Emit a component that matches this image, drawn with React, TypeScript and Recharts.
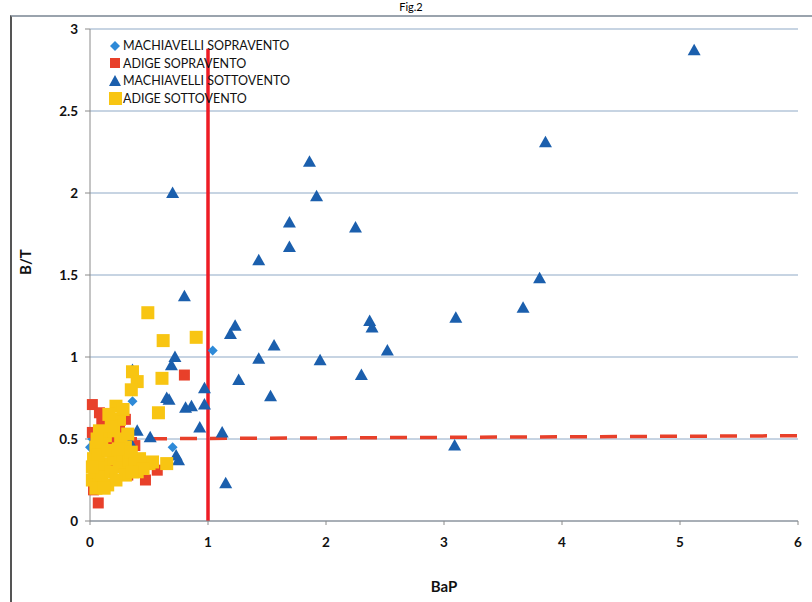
import React from "react";
import {
  ScatterChart,
  Scatter,
  XAxis,
  YAxis,
  CartesianGrid,
  ReferenceLine,
} from "recharts";

const xTicks = [0, 1, 2, 3, 4, 5, 6];
const yTicks = [0, 0.5, 1, 1.5, 2, 2.5, 3];

const machiavelliSopra = [
  { x: 1.04, y: 1.04 },
  { x: 0.36, y: 0.73 },
  { x: 0.7, y: 0.45 },
  { x: 0.0, y: 0.45 },
  { x: 0.02, y: 0.5 },
];

const adigeSopra = [
  { x: 0.8, y: 0.89 },
  { x: 0.02, y: 0.71 },
  { x: 0.47, y: 0.25 },
  { x: 0.07, y: 0.11 },
  { x: 0.03, y: 0.19 },
  { x: 0.32, y: 0.28 },
  { x: 0.57, y: 0.31 },
  { x: 0.02, y: 0.54 },
  { x: 0.05, y: 0.52 },
  { x: 0.1, y: 0.6 },
  { x: 0.25, y: 0.57 },
  { x: 0.12, y: 0.45 },
  { x: 0.3, y: 0.62 },
  { x: 0.08, y: 0.66 },
  { x: 0.2, y: 0.5 },
  { x: 0.38, y: 0.46 },
  { x: 0.15, y: 0.33 },
];

const machiavelliSotto = [
  { x: 5.12, y: 2.87 },
  { x: 3.86, y: 2.31 },
  { x: 1.86, y: 2.19 },
  { x: 1.92, y: 1.98 },
  { x: 0.7, y: 2.0 },
  { x: 1.69, y: 1.82 },
  { x: 1.69, y: 1.67 },
  { x: 2.25, y: 1.79 },
  { x: 1.43, y: 1.59 },
  { x: 3.81, y: 1.48 },
  { x: 0.8, y: 1.37 },
  { x: 3.67, y: 1.3 },
  { x: 3.1, y: 1.24 },
  { x: 2.37, y: 1.22 },
  { x: 2.39, y: 1.18 },
  { x: 1.23, y: 1.19 },
  { x: 1.19, y: 1.14 },
  { x: 1.56, y: 1.07 },
  { x: 2.52, y: 1.04 },
  { x: 1.43, y: 0.99 },
  { x: 1.95, y: 0.98 },
  { x: 1.26, y: 0.86 },
  { x: 2.3, y: 0.89 },
  { x: 1.53, y: 0.76 },
  { x: 3.09, y: 0.46 },
  { x: 1.15, y: 0.23 },
  { x: 0.97, y: 0.81 },
  { x: 0.97, y: 0.71 },
  { x: 0.93, y: 0.57 },
  { x: 1.12, y: 0.54 },
  { x: 0.72, y: 1.0 },
  { x: 0.69, y: 0.95 },
  { x: 0.65, y: 0.75 },
  { x: 0.67, y: 0.74 },
  { x: 0.81, y: 0.69 },
  { x: 0.86, y: 0.7 },
  { x: 0.51, y: 0.51 },
  { x: 0.75, y: 0.37 },
  { x: 0.73, y: 0.4 },
  { x: 0.34, y: 0.48 },
  { x: 0.36, y: 0.92 },
  { x: 0.4, y: 0.55 },
];

const adigeSotto = [
  { x: 0.49, y: 1.27 },
  { x: 0.62, y: 1.1 },
  { x: 0.9, y: 1.12 },
  { x: 0.61, y: 0.87 },
  { x: 0.36, y: 0.91 },
  { x: 0.4, y: 0.85 },
  { x: 0.35, y: 0.8 },
  { x: 0.58, y: 0.66 },
  { x: 0.65, y: 0.35 },
  { x: 0.5, y: 0.35 },
  { x: 0.53, y: 0.36 },
  { x: 0.02, y: 0.25 },
  { x: 0.04, y: 0.3 },
  { x: 0.03, y: 0.38 },
  { x: 0.05, y: 0.45 },
  { x: 0.08, y: 0.22 },
  { x: 0.1, y: 0.28 },
  { x: 0.12, y: 0.35 },
  { x: 0.07, y: 0.4 },
  { x: 0.1, y: 0.48 },
  { x: 0.15, y: 0.22 },
  { x: 0.18, y: 0.3 },
  { x: 0.2, y: 0.38 },
  { x: 0.15, y: 0.43 },
  { x: 0.13, y: 0.52 },
  { x: 0.2, y: 0.55 },
  { x: 0.25, y: 0.62 },
  { x: 0.22, y: 0.7 },
  { x: 0.28, y: 0.68 },
  { x: 0.3, y: 0.45 },
  { x: 0.25, y: 0.33 },
  { x: 0.28, y: 0.4 },
  { x: 0.33, y: 0.37 },
  { x: 0.35, y: 0.42 },
  { x: 0.38, y: 0.35 },
  { x: 0.4, y: 0.3 },
  { x: 0.42, y: 0.38 },
  { x: 0.3, y: 0.28 },
  { x: 0.22, y: 0.25 },
  { x: 0.05, y: 0.2 },
  { x: 0.12, y: 0.2 },
  { x: 0.18, y: 0.58 },
  { x: 0.26, y: 0.5 },
  { x: 0.32, y: 0.53 },
  { x: 0.08, y: 0.55 },
  { x: 0.16, y: 0.65 },
  { x: 0.24, y: 0.44 },
  { x: 0.45, y: 0.32 },
  { x: 0.36, y: 0.3 },
  { x: 0.02, y: 0.33 },
  { x: 0.06, y: 0.5 },
];

const BLUE = "#1b5fad";
const LIGHT_BLUE = "#2e8ad8";
const RED = "#e8402a";
const YELLOW = "#f8c512";
const FONT = "Lato, 'Open Sans', sans-serif";

const Diamond = (p: any) => {
  const { cx, cy } = p;
  const r = 5;
  return (
    <path
      d={`M${cx},${cy - r}L${cx + r},${cy}L${cx},${cy + r}L${cx - r},${cy}Z`}
      fill={LIGHT_BLUE}
    />
  );
};

const Square = (size: number, color: string) => (p: any) => {
  const { cx, cy } = p;
  return (
    <rect x={cx - size / 2} y={cy - size / 2} width={size} height={size} fill={color} />
  );
};

const Triangle = (p: any) => {
  const { cx, cy } = p;
  return (
    <path
      d={`M${cx},${cy - 6.5}L${cx + 6.5},${cy + 5}L${cx - 6.5},${cy + 5}Z`}
      fill={BLUE}
    />
  );
};

const legendItems = [
  { label: "MACHIAVELLI SOPRAVENTO", kind: "diamond" },
  { label: "ADIGE SOPRAVENTO", kind: "red" },
  { label: "MACHIAVELLI SOTTOVENTO", kind: "triangle" },
  { label: "ADIGE SOTTOVENTO", kind: "yellow" },
];

const LegendBox = () => (
  <div
    style={{
      position: "absolute",
      left: 107,
      top: 37,
      fontFamily: FONT,
      fontSize: 12.5,
      color: "#111",
      lineHeight: "17.5px",
    }}
  >
    {legendItems.map((it) => (
      <div key={it.label} style={{ display: "flex", alignItems: "center" }}>
        <svg width={15} height={14} style={{ marginRight: 1 }}>
          {it.kind === "diamond" && <path d="M8,2L13,7L8,12L3,7Z" fill={LIGHT_BLUE} />}
          {it.kind === "red" && <rect x={3} y={2} width={10} height={10} fill={RED} />}
          {it.kind === "triangle" && <path d="M8,1L14,12L2,12Z" fill={BLUE} />}
          {it.kind === "yellow" && <rect x={2} y={1} width={13} height={13} fill={YELLOW} />}
        </svg>
        <span>{it.label}</span>
      </div>
    ))}
  </div>
);

export default function App() {
  return (
    <div style={{ position: "absolute", left: 0, top: 0, width: 812, height: 602, background: "#fff", overflow: "hidden" }}>
      <div
        style={{
          position: "absolute",
          left: 0,
          right: 0,
          top: 1,
          textAlign: "center",
          fontFamily: FONT,
          fontSize: 11,
          lineHeight: "12px",
          paddingLeft: 10,
        }}
      >
        Fig.2
      </div>
      <div
        style={{
          position: "absolute",
          left: 10,
          top: 15,
          width: 812,
          height: 600,
          borderTop: "2px solid #9aa3ad",
          borderLeft: "2px solid #555",
        }}
      />
      <div style={{ position: "absolute", left: 0, top: 0 }}>
        <ScatterChart width={812} height={602} margin={{ top: 29, right: 14, bottom: 6, left: 0 }}>
          <CartesianGrid vertical={false} stroke="#8fa9c6" strokeWidth={1} />
          <XAxis
            type="number"
            dataKey="x"
            domain={[0, 6]}
            ticks={xTicks}
            height={75}
            stroke="#8a8a8a"
            tickSize={4}
            tickMargin={12}
            tick={{ fill: "#111", fontSize: 13.5, fontWeight: 700, fontFamily: FONT }}
            label={{ value: "BaP", position: "insideBottom", offset: 4, fill: "#111", fontSize: 15, fontWeight: 700, fontFamily: FONT }}
          />
          <YAxis
            type="number"
            dataKey="y"
            domain={[0, 3]}
            ticks={yTicks}
            width={90}
            stroke="#8a8a8a"
            tickSize={5}
            tickMargin={7}
            tick={{ fill: "#111", fontSize: 13.5, fontWeight: 700, fontFamily: FONT }}
            label={{ value: "B/T", angle: -90, position: "insideLeft", offset: 26, fill: "#111", fontSize: 15, fontWeight: 700, fontFamily: FONT }}
          />
          <ReferenceLine
            segment={[
              { x: 0, y: 0.5 },
              { x: 6, y: 0.52 },
            ]}
            stroke={RED}
            strokeWidth={3.5}
            strokeDasharray="17 13"
          />
          <Scatter name="MACHIAVELLI SOPRAVENTO" data={machiavelliSopra} shape={Diamond} isAnimationActive={false} />
          <Scatter name="ADIGE SOPRAVENTO" data={adigeSopra} shape={Square(11, RED)} isAnimationActive={false} />
          <Scatter name="MACHIAVELLI SOTTOVENTO" data={machiavelliSotto} shape={Triangle} isAnimationActive={false} />
          <Scatter name="ADIGE SOTTOVENTO" data={adigeSotto} shape={Square(13, YELLOW)} isAnimationActive={false} />
          <ReferenceLine
            segment={[
              { x: 1, y: 0 },
              { x: 1, y: 2.88 },
            ]}
            stroke="#ee1c25"
            strokeWidth={3.5}
          />
        </ScatterChart>
      </div>
      <LegendBox />
    </div>
  );
}
